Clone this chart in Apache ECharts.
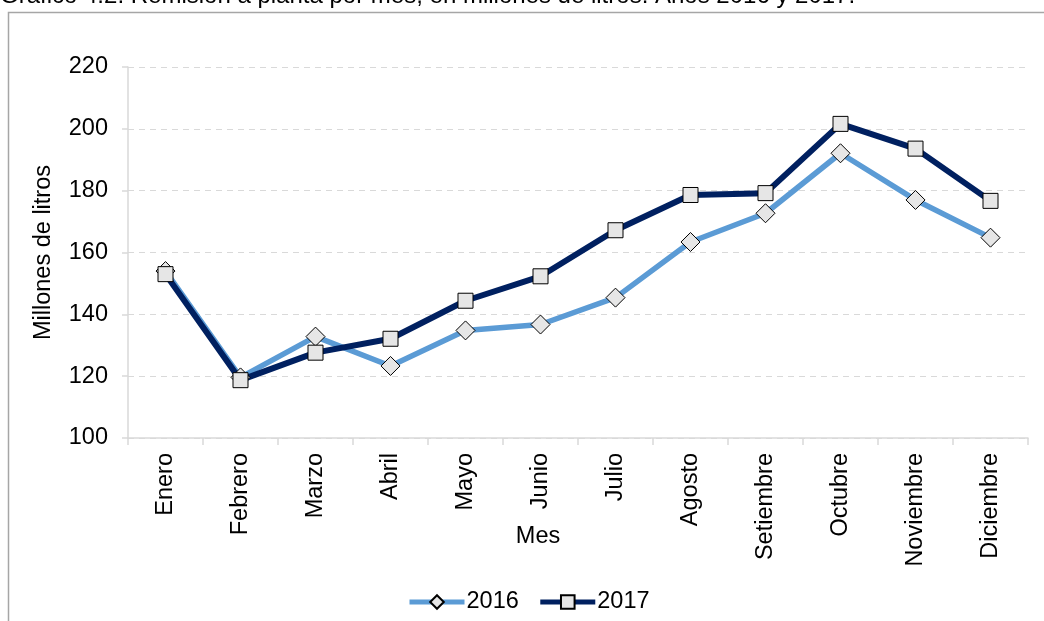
<!DOCTYPE html>
<html>
<head>
<meta charset="utf-8">
<script src="https://cdn.jsdelivr.net/npm/echarts@6/dist/echarts.min.js"></script>
<style>
  html, body { margin: 0; padding: 0; background: #fff; }
  #main { width: 1044px; height: 621px; }
</style>
</head>
<body>
<div id="main"></div>
<script>
// meses y remisión (millones de litros)
const meses = ['Enero', 'Febrero', 'Marzo', 'Abril', 'Mayo', 'Junio', 'Julio', 'Agosto', 'Setiembre', 'Octubre', 'Noviembre', 'Diciembre'];
const data2016 = [154, 119.6, 132.8, 123.3, 134.8, 136.7, 145.4, 163.4, 172.7, 192.1, 177, 164.8];
const data2017 = [153, 118.7, 127.6, 132.1, 144.4, 152.3, 167.2, 178.6, 179.2, 201.6, 193.6, 176.7];
const serieNames = ['2016', '2017'];

const FONT = 'Liberation Sans, Arial, sans-serif';
const FS = 23.5;
const chart = echarts.init(document.getElementById('main'));

const option = {
  animation: false,
  textStyle: { fontFamily: FONT, color: '#000' },
  grid: { left: 128, right: 16, top: 67, bottom: 183 },
  graphic: [
    {
      type: 'rect',
      shape: { x: 8.5, y: 12.5, width: 1100, height: 700 },
      style: { fill: 'none', stroke: '#a6a6a6', lineWidth: 1.5 },
      z: -1
    },
    {
      type: 'text',
      x: 0, y: -4,
      style: {
        text: 'Gráfico 4.2. Remisión a planta por mes, en millones de litros. Años 2016 y 2017.',
        font: '24px ' + FONT, fill: '#000', textVerticalAlign: 'middle'
      }
    },
    {
      type: 'text',
      x: 538, y: 537,
      style: {
        text: 'Mes', font: FS + 'px ' + FONT, fill: '#000',
        textAlign: 'center', textVerticalAlign: 'middle'
      }
    }
  ],
  legend: {
    left: 402, top: 585,
    itemWidth: 55, itemHeight: 17, itemGap: 19,
    lineStyle: { width: 5 },
    textStyle: { fontSize: FS, fontFamily: FONT, color: '#000', padding: [0, 0, 0, -3] },
    data: serieNames
  },
  xAxis: {
    type: 'category',
    data: meses,
    boundaryGap: true,
    axisLine: { lineStyle: { color: '#d9d9d9', width: 1.5 } },
    axisTick: { show: true, length: 7, lineStyle: { color: '#d9d9d9', width: 1.5 } },
    axisLabel: { rotate: 90, fontSize: FS, color: '#000', margin: 15, interval: 0 }
  },
  yAxis: {
    type: 'value',
    min: 100, max: 220, interval: 20,
    name: 'Millones de litros',
    nameLocation: 'middle',
    nameGap: 72,
    nameTextStyle: { fontSize: FS, color: '#000' },
    axisLine: { show: true, lineStyle: { color: '#d9d9d9', width: 1.5 } },
    axisTick: { show: true, length: 6, lineStyle: { color: '#d9d9d9', width: 1.5 } },
    axisLabel: { fontSize: FS, color: '#000', margin: 20 },
    splitLine: { lineStyle: { color: '#d9d9d9', type: [6, 5], width: 1.2 } }
  },
  series: [
    {
      name: serieNames[0],
      type: 'line',
      data: data2016,
      symbol: 'diamond',
      symbolSize: 19,
      lineStyle: { color: '#5b9bd5', width: 5.5 },
      itemStyle: { color: '#e6e6e6', borderColor: '#000', borderWidth: 1 }
    },
    {
      name: serieNames[1],
      type: 'line',
      data: data2017,
      symbol: 'rect',
      symbolSize: 15,
      lineStyle: { color: '#002060', width: 6 },
      itemStyle: { color: '#e6e6e6', borderColor: '#000', borderWidth: 1 }
    }
  ]
};

chart.setOption(option);
</script>
</body>
</html>
